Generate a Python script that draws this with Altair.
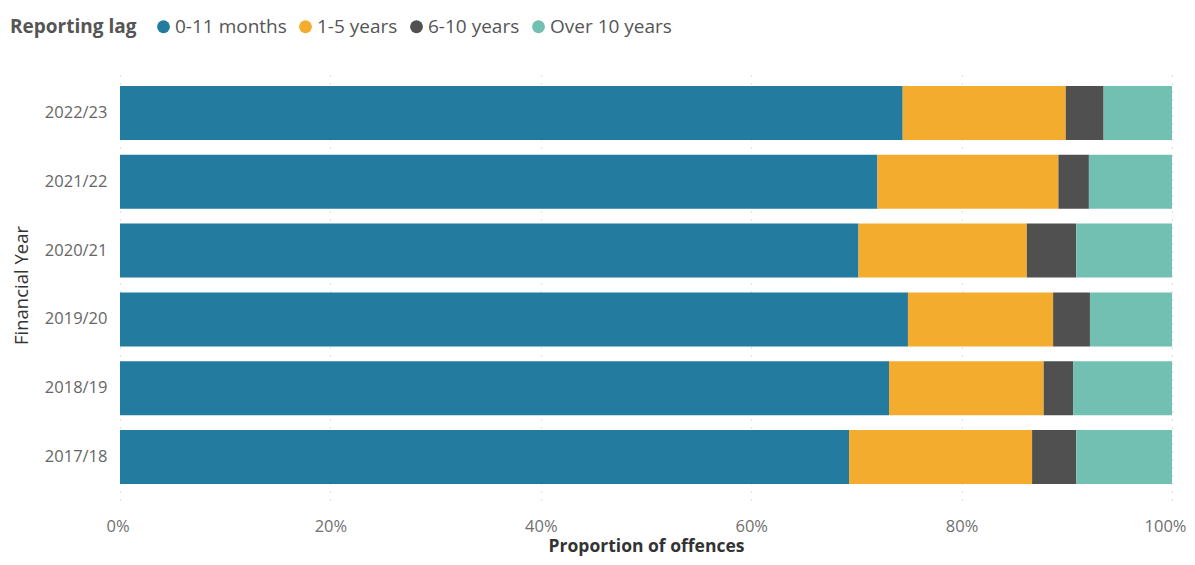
import altair as alt
import pandas as pd

years = ["2017/18", "2018/19", "2019/20", "2020/21", "2021/22", "2022/23"]
lag_groups = ["0-11 months", "1-5 years", "6-10 years", "Over 10 years"]
lag_0_11 = [69.3, 73.1, 74.9, 70.2, 72.0, 74.4]
lag_1_5 = [17.4, 14.7, 13.8, 16.0, 17.2, 15.5]
lag_6_10 = [4.2, 2.8, 3.5, 4.7, 2.9, 3.6]
lag_over_10 = [9.1, 9.4, 7.8, 9.1, 7.9, 6.5]
colors = ["#237B9F", "#F4AC2E", "#505050", "#71C0B2"]

series = [lag_0_11, lag_1_5, lag_6_10, lag_over_10]
rows = []
for gi, (g, vals) in enumerate(zip(lag_groups, series)):
    for y, v in zip(years, vals):
        rows.append({"year": y, "lag": g, "order": gi, "value": v})
df = pd.DataFrame(rows)

FONT = "Open Sans"

chart = alt.Chart(df).mark_bar().encode(
    y=alt.Y("year:N", sort=years[::-1],
            scale=alt.Scale(paddingInner=0.215, paddingOuter=0.2326),
            axis=alt.Axis(title="Financial Year", labelPadding=13, tickSize=0, ticks=False,
                          domain=False, labelFontSize=16.5, labelColor="#666666",
                          labelFont=FONT, titleFont=FONT, titleFontSize=18.5,
                          titleFontWeight="normal", titleColor="#333333", titleX=-89)),
    x=alt.X("value:Q", stack="normalize",
            scale=alt.Scale(domain=[0, 1], nice=False),
            axis=alt.Axis(title="Proportion of offences", format=".0%",
                          values=[0, 0.2, 0.4, 0.6, 0.8, 1.0],
                          labelFlush=True, labelFlushOffset=14,
                          tickSize=0, ticks=False, domain=False, labelPadding=18,
                          labelFontSize=16.5, labelColor="#707070", labelFont=FONT,
                          titleFont=FONT, titleFontSize=17.5, titleFontWeight="bold",
                          titleColor="#333333", titlePadding=3,
                          grid=True, gridDash=[1, 7], gridColor="#c8c8c8", gridWidth=1.2)),
    color=alt.Color("lag:N", scale=alt.Scale(domain=lag_groups, range=colors),
                    legend=alt.Legend(title="Reporting lag", orient="none",
                                      legendX=-110, legendY=-53,
                                      direction="horizontal", titleOrient="left",
                                      symbolType="circle", symbolSize=165,
                                      symbolStrokeWidth=0, labelOffset=2,
                                      columnPadding=9, titlePadding=17,
                                      labelFont=FONT, labelFontSize=19,
                                      labelColor="#555555", titleFont=FONT,
                                      titleFontSize=19, titleFontWeight="bold",
                                      titleColor="#555555", titleBaseline="middle")),
    order=alt.Order("order:Q"),
).properties(
    width=1052, height=430,
    autosize=alt.AutoSizeParams(type="none"),
    padding={"left": 112, "top": 62, "right": 14, "bottom": 57},
).configure_view(stroke=None)

chart.save("out.html", embed_options={"renderer": "svg", "actions": False})
